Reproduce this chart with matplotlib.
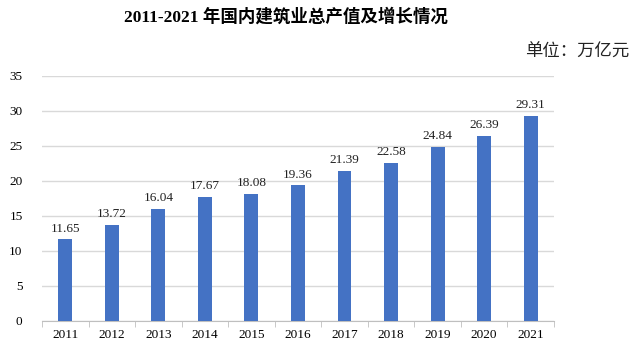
import matplotlib
matplotlib.use("Agg")
import matplotlib.pyplot as plt
import numpy as np

years = ["2011", "2012", "2013", "2014", "2015", "2016", "2017", "2018", "2019", "2020", "2021"]
values = [11.65, 13.72, 16.04, 17.67, 18.08, 19.36, 21.39, 22.58, 24.84, 26.39, 29.31]
yticks = [0, 5, 10, 15, 20, 25, 30, 35]

serif = ["Liberation Serif", "Noto Sans CJK SC"]
cjk = ["Liberation Serif", "Noto Sans CJK SC"]

fig = plt.figure(figsize=(6.36, 3.5), dpi=100)
ax = fig.add_axes([0.066, 0.083, 0.805, 0.700])

x = np.arange(len(years))
ax.bar(x, values, width=0.3, color="#4472C4", zorder=3)
for xi, v in zip(x, values):
    ax.text(xi, v + 0.7, f"{v:.2f}", ha="center", va="bottom", fontsize=9.5,
            family=serif, color="#222222")

ax.set_xlim(-0.5, len(years) - 0.5)
ax.set_ylim(0, 35)
ax.set_yticks(yticks)
ax.set_yticklabels([str(t) for t in yticks], family=serif, fontsize=9.5)
ax.set_xticks(x)
ax.set_xticklabels(years, family=serif, fontsize=9.5)
ax.tick_params(axis="x", length=0, pad=6)
ax.tick_params(axis="y", length=0, pad=14)
ax.set_xticks(np.arange(-0.5, len(years)), minor=True)
ax.tick_params(axis="x", which="minor", length=4, color="#BFBFBF")
ax.grid(axis="y", color="#D9D9D9", linewidth=1, zorder=0)
for s in ["left", "right", "top"]:
    ax.spines[s].set_visible(False)
ax.spines["bottom"].set_color("#BFBFBF")

fig.text(0.45, 0.951, "2011-2021 年国内建筑业总产值及增长情况", ha="center", va="center",
         fontsize=12.6, fontweight="bold", family=cjk)
fig.text(0.99, 0.851, "单位：万亿元", ha="right", va="center", fontsize=12.5,
         family=["Noto Sans CJK SC"], color="#222222")

fig.savefig("out.png", dpi=100)
